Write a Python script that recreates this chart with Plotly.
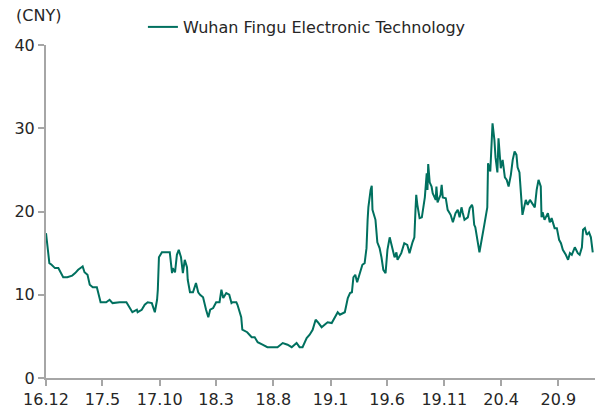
import plotly.graph_objects as go

dates = [
    "2016-12-01", "2016-12-04", "2016-12-07", "2016-12-10", "2016-12-16", "2016-12-25",
    "2017-01-03", "2017-01-08", "2017-01-16", "2017-01-27", "2017-02-09", "2017-02-17",
    "2017-02-25", "2017-03-06", "2017-03-09", "2017-03-14", "2017-03-22", "2017-03-28",
    "2017-04-05", "2017-04-16", "2017-04-21", "2017-04-26", "2017-05-11", "2017-05-20",
    "2017-05-28", "2017-06-16", "2017-07-04", "2017-07-12", "2017-07-20", "2017-08-01",
    "2017-08-03", "2017-08-14", "2017-08-22", "2017-08-30", "2017-09-10", "2017-09-18",
    "2017-09-24", "2017-09-26", "2017-09-29", "2017-10-07", "2017-10-28", "2017-11-03",
    "2017-11-05", "2017-11-11", "2017-11-16", "2017-11-21", "2017-11-27", "2017-12-02",
    "2017-12-07", "2017-12-13", "2017-12-15", "2017-12-21", "2017-12-29", "2018-01-06",
    "2018-01-12", "2018-01-17", "2018-01-25", "2018-02-02", "2018-02-08", "2018-02-13",
    "2018-02-21", "2018-03-01", "2018-03-10", "2018-03-15", "2018-03-20", "2018-03-28",
    "2018-04-05", "2018-04-11", "2018-04-14", "2018-04-24", "2018-04-27", "2018-05-07",
    "2018-05-10", "2018-05-23", "2018-06-04", "2018-06-12", "2018-06-20", "2018-07-03",
    "2018-07-16", "2018-07-30", "2018-08-12", "2018-08-26", "2018-09-08", "2018-09-19",
    "2018-10-02", "2018-10-10", "2018-10-18", "2018-10-29", "2018-11-06", "2018-11-14",
    "2018-11-22", "2018-11-28", "2018-12-08", "2018-12-16", "2018-12-24", "2019-01-04",
    "2019-01-12", "2019-01-20", "2019-01-26", "2019-02-08", "2019-02-16", "2019-02-22",
    "2019-02-27", "2019-03-03", "2019-03-08", "2019-03-13", "2019-03-21", "2019-03-27",
    "2019-04-02", "2019-04-07", "2019-04-10", "2019-04-12", "2019-04-18", "2019-04-21",
    "2019-04-23", "2019-04-26", "2019-05-01", "2019-05-06", "2019-05-12", "2019-05-17",
    "2019-05-22", "2019-05-28", "2019-06-02", "2019-06-08", "2019-06-13", "2019-06-16",
    "2019-06-21", "2019-06-26", "2019-06-29", "2019-07-09", "2019-07-17", "2019-07-25",
    "2019-07-31", "2019-08-08", "2019-08-13", "2019-08-16", "2019-08-18", "2019-08-21",
    "2019-08-27", "2019-09-02", "2019-09-05", "2019-09-10", "2019-09-15", "2019-09-17",
    "2019-09-19", "2019-09-23", "2019-09-28", "2019-10-01", "2019-10-09", "2019-10-11",
    "2019-10-14", "2019-10-22", "2019-10-25", "2019-10-28", "2019-11-05", "2019-11-10",
    "2019-11-18", "2019-11-24", "2019-12-01", "2019-12-07", "2019-12-12", "2019-12-17",
    "2019-12-20", "2019-12-25", "2020-01-03", "2020-01-08", "2020-01-14", "2020-01-16",
    "2020-01-20", "2020-01-23", "2020-02-03", "2020-02-10", "2020-02-16", "2020-02-24",
    "2020-02-26", "2020-03-03", "2020-03-06", "2020-03-09", "2020-03-14", "2020-03-17",
    "2020-03-22", "2020-03-25", "2020-03-31", "2020-04-05", "2020-04-11", "2020-04-16",
    "2020-04-21", "2020-04-27", "2020-05-02", "2020-05-07", "2020-05-12", "2020-05-15",
    "2020-05-20", "2020-05-26", "2020-05-28", "2020-06-06", "2020-06-11", "2020-06-17",
    "2020-06-22", "2020-06-30", "2020-07-05", "2020-07-10", "2020-07-16", "2020-07-18",
    "2020-07-21", "2020-07-26", "2020-08-04", "2020-08-09", "2020-08-14", "2020-08-22",
    "2020-08-28", "2020-09-03", "2020-09-08", "2020-09-13", "2020-09-21", "2020-09-27",
    "2020-10-02", "2020-10-07", "2020-10-15", "2020-10-23", "2020-10-28", "2020-11-03",
    "2020-11-06", "2020-11-11", "2020-11-16", "2020-11-22", "2020-11-27", "2020-11-30",
    "2020-12-02",
]

prices = [
    17.4, 16.2, 15.4, 13.8, 13.6, 13.2,
    13.2, 12.7, 12.1, 12.1, 12.3, 12.6,
    13.0, 13.3, 13.4, 12.7, 12.4, 11.2,
    10.9, 10.9, 10.0, 9.1, 9.1, 9.4,
    9.0, 9.1, 9.1, 8.5, 7.9, 8.2,
    7.9, 8.2, 8.8, 9.1, 9.0, 7.9,
    9.4, 10.6, 14.5, 15.1, 15.1, 12.6,
    13.2, 12.7, 14.8, 15.4, 14.5, 12.6,
    14.2, 13.3, 11.8, 10.3, 10.3, 11.4,
    10.3, 10.0, 9.7, 8.2, 7.3, 8.2,
    8.4, 9.1, 9.1, 10.6, 9.6, 10.2,
    10.0, 9.0, 9.1, 9.1, 8.8, 7.3,
    5.8, 5.5, 4.9, 4.9, 4.3, 4.0,
    3.7, 3.7, 3.7, 4.2, 4.0, 3.7,
    4.2, 3.7, 3.7, 4.8, 5.2, 5.8,
    7.0, 6.7, 6.1, 6.4, 6.7, 6.6,
    7.3, 7.9, 7.6, 7.9, 9.6, 10.2,
    10.3, 12.1, 12.4, 11.5, 12.7, 13.6,
    13.8, 15.6, 19.0, 20.5, 22.6, 23.1,
    20.2, 19.8, 19.0, 16.3, 15.6, 14.5,
    13.0, 12.6, 15.4, 16.9, 16.0, 15.4,
    14.5, 15.1, 14.2, 15.0, 16.2, 16.0,
    15.0, 16.3, 16.9, 20.2, 22.0, 20.8,
    19.2, 19.3, 20.5, 21.7, 24.6, 22.6,
    25.7, 23.5, 23.0, 22.2, 21.4, 23.0,
    21.1, 22.0, 23.2, 21.7, 21.6, 20.2,
    19.6, 18.7, 19.8, 20.2, 19.3, 20.5,
    19.9, 19.0, 19.3, 20.4, 20.8, 20.5,
    18.4, 18.1, 15.1, 17.2, 18.4, 20.5,
    25.8, 24.8, 28.2, 30.6, 28.6, 26.5,
    24.7, 28.8, 25.2, 26.2, 24.1, 23.8,
    23.0, 24.4, 26.2, 27.2, 26.8, 25.3,
    24.7, 20.2, 19.6, 21.4, 20.8, 21.4,
    21.1, 20.5, 22.6, 23.8, 23.0, 19.3,
    19.9, 19.0, 19.8, 18.7, 19.2, 18.0,
    18.0, 16.6, 16.2, 15.4, 14.8, 14.2,
    15.0, 14.8, 15.7, 15.0, 14.8, 15.7,
    17.8, 18.0, 17.2, 17.5, 16.9, 15.6,
    15.1,
]

tick_dates = ["2016-12-01", "2017-05-01", "2017-10-01", "2018-03-01", "2018-08-01",
              "2019-01-01", "2019-06-01", "2019-11-01", "2020-04-01", "2020-09-01"]
tick_labels = ["16.12", "17.5", "17.10", "18.3", "18.8", "19.1", "19.6", "19.11", "20.4", "20.9"]

series_name = "Wuhan Fingu Electronic Technology"
unit_label = "(CNY)"

FONT = "DejaVu Sans"
TEXT_COLOR = "#262626"
AXIS_COLOR = "#a6a6a6"
LINE_COLOR = "#00705f"

fig = go.Figure()
fig.add_trace(go.Scatter(
    x=dates, y=prices, mode="lines", name=series_name,
    line=dict(color=LINE_COLOR, width=2),
    showlegend=True,
))

fig.update_layout(
    width=603, height=414,
    margin=dict(l=46, r=8, t=45, b=36, autoexpand=False),
    paper_bgcolor="white", plot_bgcolor="white",
    font=dict(family=FONT, size=16, color=TEXT_COLOR),
    showlegend=True,
    legend=dict(orientation="h", xref="container", yref="container",
                x=0.237, y=1 - 27 / 414, xanchor="left", yanchor="middle",
                font=dict(family=FONT, size=16, color=TEXT_COLOR),
                bgcolor="rgba(0,0,0,0)"),
    xaxis=dict(
        type="date", range=["2016-12-01", "2020-12-08"], automargin=False,
        tickmode="array", tickvals=tick_dates, ticktext=tick_labels,
        showgrid=False, zeroline=False,
        showline=True, linecolor=AXIS_COLOR, linewidth=2,
        ticks="outside", ticklen=6, tickcolor=AXIS_COLOR, tickwidth=2,
        tickfont=dict(family=FONT, size=16, color=TEXT_COLOR),
        fixedrange=True,
    ),
    yaxis=dict(
        range=[0, 40], tickvals=[0, 10, 20, 30, 40], automargin=False,
        showgrid=False, zeroline=False,
        showline=True, linecolor=AXIS_COLOR, linewidth=2,
        ticks="outside", ticklen=6, tickcolor=AXIS_COLOR, tickwidth=2,
        tickfont=dict(family=FONT, size=16, color=TEXT_COLOR),
        fixedrange=True,
    ),
    annotations=[dict(
        text=unit_label, xref="paper", yref="paper", x=-32 / 549, y=1 + 30 / 333,
        xanchor="left", yanchor="middle", showarrow=False,
        font=dict(family=FONT, size=16, color=TEXT_COLOR),
    )],
)

fig.write_html(
    "out.html",
    config={"displayModeBar": False},
    post_script="document.body.style.margin='0';document.documentElement.style.overflow='hidden';",
)
